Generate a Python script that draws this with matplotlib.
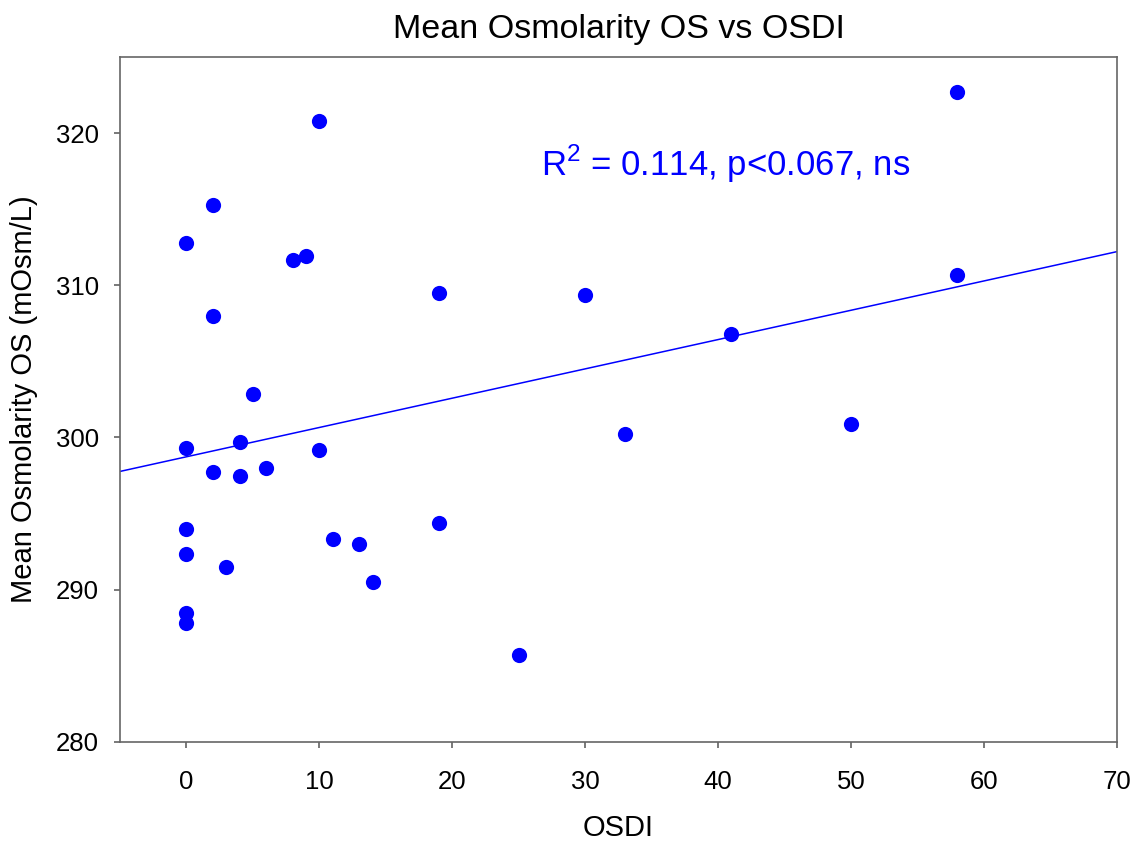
import numpy as np
import matplotlib
matplotlib.use("Agg")
import matplotlib.pyplot as plt

# ---------------------------------------
# Data
# ---------------------------------------

osdi = [
    0, 0, 0, 0, 0, 0,
    2, 2, 2, 3, 4, 4, 5, 6,
    8, 9, 10, 10, 11, 13, 14,
    19, 19, 25, 30, 33, 41, 50, 58, 58
]

osmolarity = [
    312.8, 299.3, 294.0, 292.35, 288.5, 287.8,
    315.3, 308.0, 297.7, 291.5, 299.7, 297.5, 302.85, 298.0,
    311.65, 311.95, 320.8, 299.2, 293.35, 293.0, 290.5,
    309.5, 294.35, 285.7, 309.35, 300.2, 306.8, 300.9, 322.7, 310.65
]

annotation = "R$^2$ = 0.114, p<0.067, ns"

# ---------------------------------------
# Plot
# ---------------------------------------

plt.rcParams["font.family"] = ["Liberation Sans", "DejaVu Sans"]
plt.rcParams["mathtext.fontset"] = "custom"
plt.rcParams["mathtext.rm"] = "Liberation Sans"

fig = plt.figure(figsize=(11.48, 8.44), dpi=100)
ax = fig.add_axes([0.1045, 0.121, 0.8685, 0.8115])

ax.scatter(osdi, osmolarity, s=120, color="#0000ff", zorder=3, linewidths=0)

# linear fit
slope, intercept = np.polyfit(osdi, osmolarity, 1)
xs = np.array([-5, 70])
ax.plot(xs, slope * xs + intercept, color="#0000ff", linewidth=1.1, zorder=2)

ax.text(26.7, 318, annotation, color="#0000ff", fontsize=25,
        ha="left", va="center")

ax.set_xlim(-5, 70)
ax.set_ylim(280, 325)
ax.set_xticks(range(0, 71, 10))
ax.set_yticks(range(280, 321, 10))

ax.set_title("Mean Osmolarity OS vs OSDI", fontsize=24.5, pad=14)
ax.set_xlabel("OSDI", fontsize=21, labelpad=15)
ax.set_ylabel("Mean Osmolarity OS (mOsm/L)", fontsize=21, labelpad=13)

for side in ax.spines.values():
    side.set_color("#666666")
    side.set_linewidth(1.2)

ax.tick_params(direction="out", length=4, width=1.1, color="#555555",
               labelsize=18.5, top=False, right=False)
ax.tick_params(axis="x", pad=16)
ax.tick_params(axis="y", pad=11)

fig.savefig("out.png", dpi=100)
